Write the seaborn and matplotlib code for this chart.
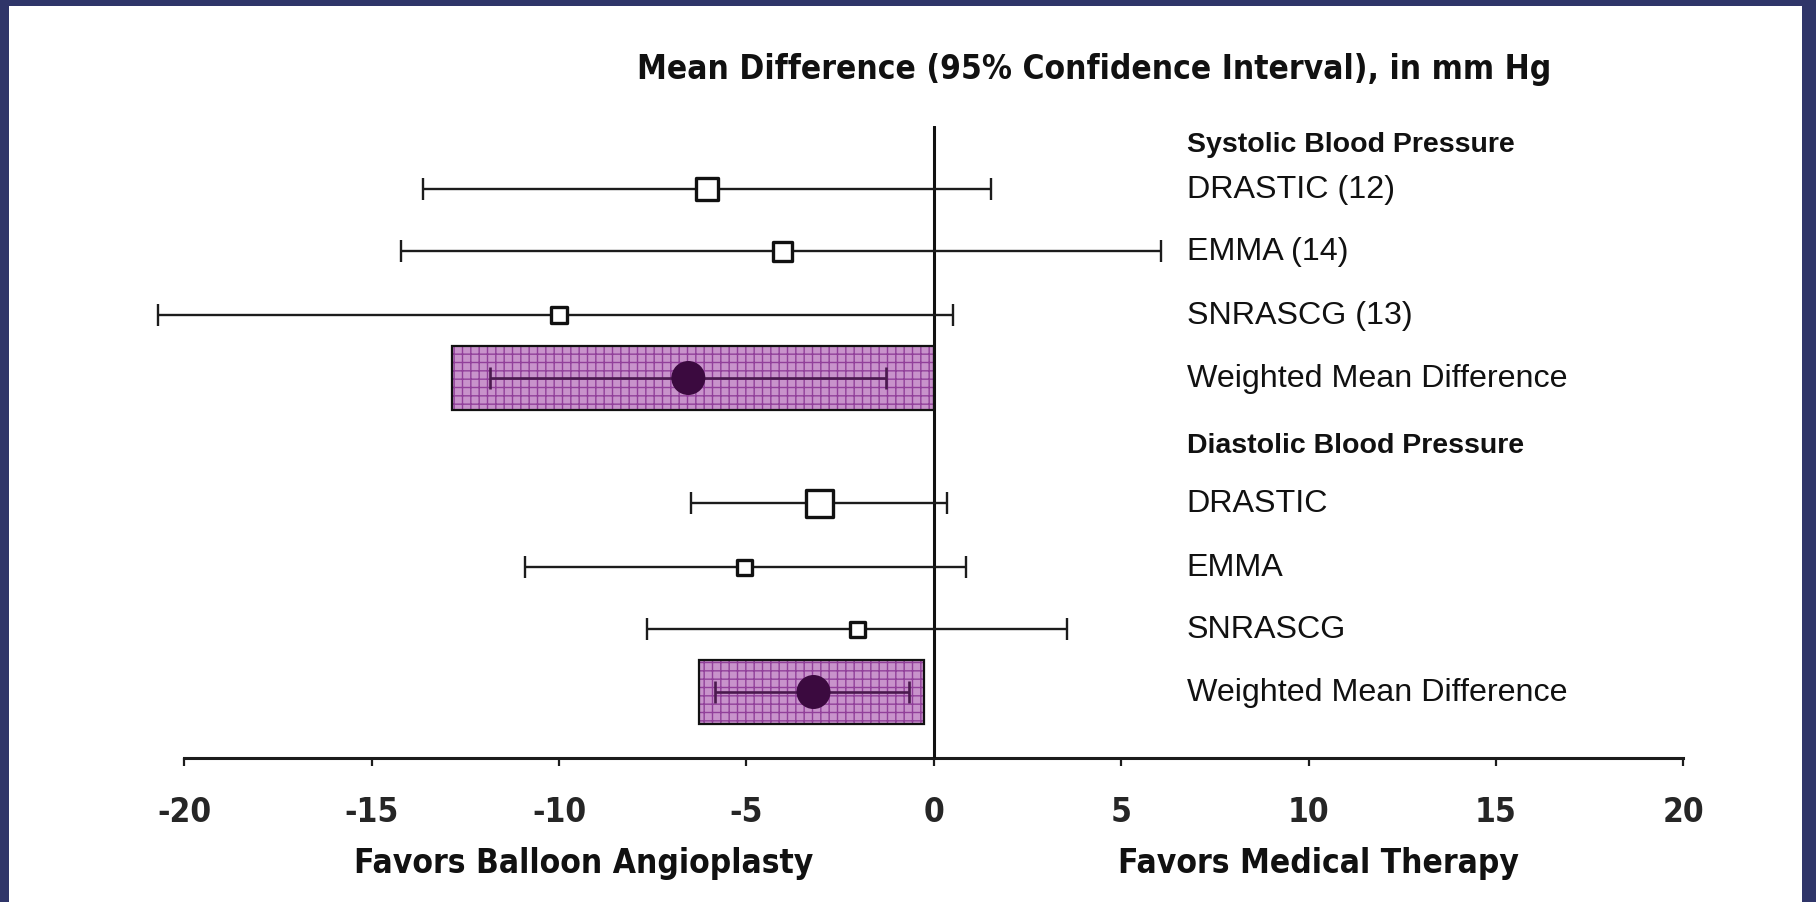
import matplotlib
matplotlib.use("Agg")
import matplotlib.pyplot as plt
from matplotlib.patches import Rectangle
from matplotlib import font_manager
import seaborn as sns
import pandas as pd
import numpy as np

# ---------------- data ----------------
studies = ["DRASTIC (12)", "EMMA (14)", "SNRASCG (13)", "DRASTIC", "EMMA", "SNRASCG"]
study_mean = [-6.05, -4.05, -10.0, -3.05, -5.05, -2.03]
study_lo = [-13.64, -14.22, -20.7, -6.48, -10.91, -7.64]
study_hi = [1.53, 6.07, 0.51, 0.35, 0.87, 3.56]

pooled_labels = ["Weighted Mean Difference", "Weighted Mean Difference"]
pooled_mean = [-6.55, -3.21]
pooled_lo = [-11.84, -5.83]
pooled_hi = [-1.27, -0.65]
pooled_box_lo = [-12.86, -6.26]
pooled_box_hi = [0.0, -0.25]

headers = ["Systolic Blood Pressure", "Diastolic Blood Pressure"]
xticks = [-20, -15, -10, -5, 0, 5, 10, 15, 20]
title = "Mean Difference (95% Confidence Interval), in mm Hg"
left_note = "Favors Balloon Angioplasty"
right_note = "Favors Medical Therapy"

# ---------------- layout (pixel rows) ----------------
W, H = 1816, 903
study_y = [190, 252, 316, 504, 568, 630]
pooled_y = [379, 693]
header_y = [145, 446]
square_px = [25, 22, 19, 30, 18, 18]
box_h = 64

sns.set_theme(style="white")
plt.rcParams["font.family"] = ["Liberation Sans", "DejaVu Sans"]
plt.rcParams["hatch.linewidth"] = 1.0

# look for a condensed/narrow bold face, fall back to Liberation Sans
narrow_props = dict(family=["Liberation Sans", "DejaVu Sans"], fontweight="bold")
cands = []
for f in font_manager.fontManager.ttflist:
    nm = f.name.lower()
    fn = f.fname.lower()
    if ("narrow" in nm or "condensed" in nm or "narrow" in fn or "condensed" in fn) \
            and ("bold" in fn or f.weight in ("bold", 700)):
        cands.append(f)
if cands:
    pref = sorted(cands, key=lambda f: (0 if "liberation" in f.fname.lower() else 1,
                                        0 if "oblique" not in f.fname.lower() and "italic" not in f.fname.lower() else 1))
    narrow_props = dict(fontproperties=font_manager.FontProperties(fname=pref[0].fname))

fig = plt.figure(figsize=(W / 100, H / 100), dpi=100)
fig.patch.set_facecolor("#2f3569")
fig.add_artist(Rectangle((9 / W, 0), (W - 9 - 14) / W, (H - 7) / H,
                         transform=fig.transFigure, facecolor="white",
                         edgecolor="none", zorder=0))

ax_left, ax_right, ax_top, ax_bot = 184.3, 1683.3, 127, 759
ax = fig.add_axes([ax_left / W, (H - ax_bot) / H, (ax_right - ax_left) / W, (ax_bot - ax_top) / H])
ax.set_facecolor("none")
ax.set_xlim(-20, 20)
ax.set_ylim(ax_bot, ax_top)

# pooled boxes
widths = [h - l for l, h in zip(pooled_box_lo, pooled_box_hi)]
ax.barh(pooled_y, widths, left=pooled_box_lo, height=box_h, color="#c893cb",
        edgecolor="#91409a", hatch="++", linewidth=0, zorder=1)
ax.barh(pooled_y, widths, left=pooled_box_lo, height=box_h, fill=False,
        edgecolor="#111111", linewidth=1.6, zorder=2)

# zero line
ax.axvline(0, color="#111111", lw=2.2, zorder=3)

# study CIs
sm = np.array(study_mean)
ec1 = ax.errorbar(sm, study_y, xerr=[sm - np.array(study_lo), np.array(study_hi) - sm],
                  fmt="none", ecolor="#1c1c1c", elinewidth=1.7, capsize=8, capthick=1.7, zorder=4)
pm = np.array(pooled_mean)
ec2 = ax.errorbar(pm, pooled_y, xerr=[pm - np.array(pooled_lo), np.array(pooled_hi) - pm],
                  fmt="none", ecolor="#4a1a4e", elinewidth=1.9, capsize=8, capthick=1.9, zorder=4)
for cont in (ec1, ec2):
    for child in cont.get_children():
        child.set_clip_on(False)

df_s = pd.DataFrame({"mean": study_mean, "y": study_y})
sizes = [((p - 3) * 0.72) ** 2 for p in square_px]
sns.scatterplot(data=df_s, x="mean", y="y", marker="s", s=sizes, color="white",
                edgecolor="#111111", linewidth=2.4, ax=ax, zorder=5, legend=False)
df_p = pd.DataFrame({"mean": pooled_mean, "y": pooled_y})
sns.scatterplot(data=df_p, x="mean", y="y", marker="o", s=(34 * 0.72) ** 2,
                color="#3b0a3f", edgecolor="none", linewidth=0, ax=ax, zorder=5, legend=False)

# labels on right
lab_x = 6.75
for lab, y in zip(studies, study_y):
    ax.text(lab_x, y, lab, fontsize=23.2, va="center", ha="left", color="#111111", clip_on=False)
for lab, y in zip(pooled_labels, pooled_y):
    ax.text(lab_x, y, lab, fontsize=23.2, va="center", ha="left", color="#111111", clip_on=False)
for lab, y in zip(headers, header_y):
    ax.text(lab_x, y, lab, fontsize=20.5, fontweight="bold", va="center", ha="left",
            color="#111111", clip_on=False)

# title and bottom notes
ax.text(4.27, 69, title, fontsize=24, ha="center", va="center", color="#111111",
        clip_on=False, **narrow_props)
ax.text(-9.33, 864, left_note, fontsize=24, ha="center", va="center", color="#111111",
        clip_on=False, **narrow_props)
ax.text(10.27, 864, right_note, fontsize=24, ha="center", va="center", color="#111111",
        clip_on=False, **narrow_props)

# axes styling
for s in ["top", "left", "right"]:
    ax.spines[s].set_visible(False)
ax.spines["bottom"].set_linewidth(2.2)
ax.spines["bottom"].set_color("#1c1c1c")
ax.set_xticks(xticks)
ax.set_xticklabels([str(t) for t in xticks])
ax.set_yticks([])
ax.tick_params(axis="x", bottom=True, direction="out", length=6, width=1.6, color="#1c1c1c",
               pad=21, labelsize=24)
for t in ax.get_xticklabels():
    if "fontproperties" in narrow_props:
        t.set_fontproperties(narrow_props["fontproperties"])
        t.set_fontsize(24)
    else:
        t.set_fontweight("bold")
ax.set_xlabel("")
ax.set_ylabel("")

fig.savefig("out.png", dpi=100, facecolor=fig.get_facecolor())
